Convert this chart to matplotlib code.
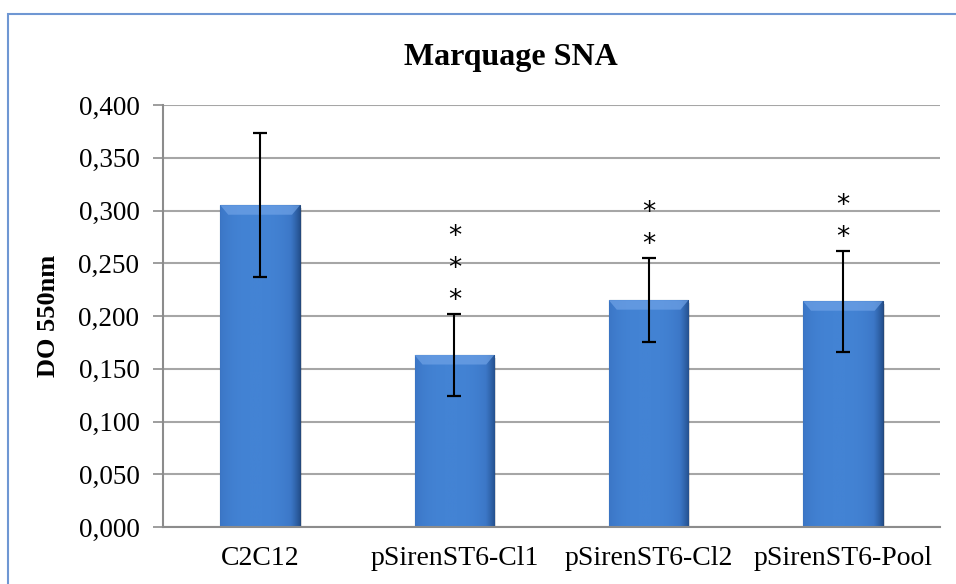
import matplotlib
matplotlib.use("Agg")
import matplotlib.pyplot as plt
import numpy as np
from matplotlib.patches import Rectangle
from matplotlib.colors import LinearSegmentedColormap

categories = ["C2C12", "pSirenST6-Cl1", "pSirenST6-Cl2", "pSirenST6-Pool"]
values = [0.305, 0.163, 0.215, 0.214]
errors = [0.068, 0.039, 0.040, 0.048]
stars = [0, 3, 2, 2]
yticks = [0.0, 0.05, 0.1, 0.15, 0.2, 0.25, 0.3, 0.35, 0.4]
ytick_labels = ["0,000", "0,050", "0,100", "0,150", "0,200", "0,250", "0,300", "0,350", "0,400"]

plt.rcParams['font.family'] = ['Liberation Serif', 'DejaVu Serif']

fig = plt.figure(figsize=(9.56, 5.84), dpi=100)
W, H = 956, 584
# outer chart border
fig.patches.append(Rectangle((8 / W, -0.1), 1.2, (H - 14) / H + 0.1, transform=fig.transFigure,
                             fill=False, edgecolor='#6F97D3', linewidth=1.5, zorder=0))

ax = fig.add_axes([163 / W, 1 - 527 / H, (940 - 163) / W, (527 - 105) / H])
ax.set_xlim(-0.5, len(categories) - 0.5)
ax.set_ylim(0, 0.4)
ax.set_yticks(yticks)
ax.set_yticklabels(ytick_labels, fontsize=19.5)
ax.set_xticks(range(len(categories)))
ax.set_xticklabels(categories, fontsize=20)
ax.tick_params(axis='x', length=0, pad=14)
ax.tick_params(axis='y', length=7, color='#8C8C8C', width=1.2, pad=10)
ax.grid(axis='y', color='#A6A6A6', linewidth=1.5, zorder=0)
ax.set_axisbelow(True)
for s in ['top', 'right']:
    ax.spines[s].set_visible(False)
for s in ['left', 'bottom']:
    ax.spines[s].set_color('#8C8C8C')
    ax.spines[s].set_linewidth(1.5)

bw = 0.41
x = np.arange(len(categories))
bars = ax.bar(x, values, width=bw, color='#3F7ACB', edgecolor='#24497D', linewidth=0.8, zorder=2)

grad = np.linspace(0, 1, 256)
prof = 1 - 0.35 * (np.abs(grad - 0.45) / 0.55) ** 3
cmap = LinearSegmentedColormap.from_list('b', ['#24518F', '#3C77C7', '#4383D4'])
for b in bars:
    x0, w, h = b.get_x(), b.get_width(), b.get_height()
    img = ax.imshow(prof[None, :], extent=[x0, x0 + w, 0, h], aspect='auto', cmap=cmap,
                    vmin=0.65, vmax=1.0, zorder=2.1)
    img.set_clip_path(b)
    ax.fill([x0, x0 + w, x0 + w * 0.9, x0 + w * 0.1], [h, h, h - 0.009, h - 0.009],
            color='#6FA2E6', alpha=0.7, zorder=2.2, linewidth=0)
    ax.add_patch(Rectangle((x0 + 0.01, 0), w, h - 0.003, facecolor='#000000', alpha=0.12,
                           zorder=1.5, linewidth=0))

ax.errorbar(x, values, yerr=errors, fmt='none', ecolor='black', elinewidth=1.5,
            capsize=4.8, capthick=1.6, zorder=3)

for xi, v, e, n in zip(x, values, errors, stars):
    for k in range(n):
        ax.text(xi, v + e + 0.012 + 0.0305 * k, '*', ha='center', va='center', fontsize=19,
                family=['DejaVu Sans'], zorder=4)

ax.set_ylabel('DO 550nm', fontsize=19, fontweight='bold', labelpad=13)
fig.text(511 / W, 1 - 58 / H, 'Marquage SNA', ha='center', va='center', fontsize=23, fontweight='bold')

fig.savefig('out.png', dpi=100)
